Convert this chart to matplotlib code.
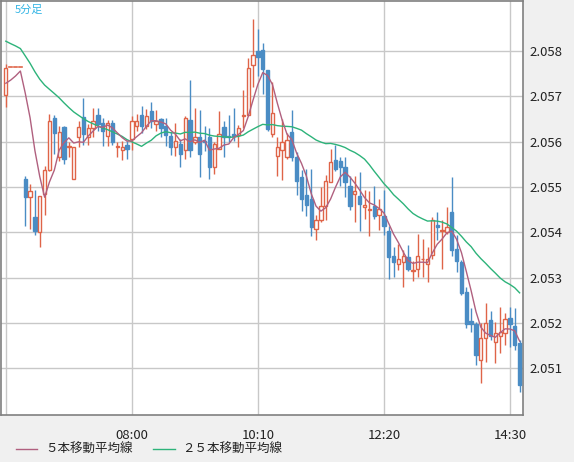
import numpy as np
import pandas as pd
import matplotlib
matplotlib.use("Agg")
import matplotlib.pyplot as plt
from matplotlib.patches import Rectangle
from matplotlib.lines import Line2D

plt.rcParams['font.family'] = ['Noto Sans CJK JP', 'DejaVu Sans']

# 5分足 OHLC, 05:50 から 14:40 まで (bar 1-3 は取引なし)
opens = [2.05703, 2.05765, 2.05765, 2.05765, 2.05518, 2.05477, 2.05433, 2.05400, 2.05485, 2.05538,
         2.05653, 2.05567, 2.05633, 2.05589, 2.05518, 2.05609, 2.05655, 2.05611, 2.05631, 2.05659,
         2.05642, 2.05613, 2.05642, 2.05587, 2.05582, 2.05593, 2.05606, 2.05635, 2.05659, 2.05635,
         2.05668, 2.05639, 2.05650, 2.05635, 2.05613, 2.05587, 2.05595, 2.05582, 2.05648, 2.05598,
         2.05611, 2.05602, 2.05611, 2.05543, 2.05584, 2.05633, 2.05613, 2.05617, 2.05615, 2.05657,
         2.05659, 2.05769, 2.05800, 2.05802, 2.05758, 2.05617, 2.05569, 2.05582, 2.05565, 2.05622,
         2.05567, 2.05521, 2.05483, 2.05474, 2.05408, 2.05426, 2.05457, 2.05510, 2.05560, 2.05558,
         2.05543, 2.05503, 2.05485, 2.05481, 2.05455, 2.05450, 2.05457, 2.05437, 2.05435, 2.05402,
         2.05347, 2.05329, 2.05334, 2.05345, 2.05314, 2.05318, 2.05340, 2.05331, 2.05349, 2.05415,
         2.05402, 2.05400, 2.05444, 2.05362, 2.05334, 2.05268, 2.05204, 2.05197, 2.05118, 2.05166,
         2.05206, 2.05158, 2.05171, 2.05177, 2.05210, 2.05193, 2.05155]
highs = [2.05771, 2.05765, 2.05765, 2.05765, 2.05523, 2.05507, 2.05494, 2.05479, 2.05547, 2.05661,
         2.05659, 2.05635, 2.05635, 2.05598, 2.05589, 2.05646, 2.05697, 2.05639, 2.05675, 2.05675,
         2.05653, 2.05648, 2.05648, 2.05598, 2.05602, 2.05602, 2.05657, 2.05661, 2.05679, 2.05672,
         2.05688, 2.05670, 2.05653, 2.05653, 2.05622, 2.05642, 2.05606, 2.05657, 2.05736, 2.05675,
         2.05670, 2.05635, 2.05631, 2.05598, 2.05668, 2.05646, 2.05659, 2.05675, 2.05637, 2.05714,
         2.05785, 2.05870, 2.05848, 2.05818, 2.05758, 2.05732, 2.05611, 2.05650, 2.05620, 2.05670,
         2.05576, 2.05538, 2.05540, 2.05540, 2.05437, 2.05499, 2.05527, 2.05584, 2.05593, 2.05565,
         2.05567, 2.05525, 2.05525, 2.05532, 2.05494, 2.05492, 2.05503, 2.05474, 2.05494, 2.05413,
         2.05367, 2.05375, 2.05360, 2.05371, 2.05336, 2.05397, 2.05386, 2.05367, 2.05433, 2.05444,
         2.05426, 2.05455, 2.05521, 2.05393, 2.05338, 2.05279, 2.05232, 2.05202, 2.05199, 2.05243,
         2.05226, 2.05202, 2.05235, 2.05221, 2.05235, 2.05232, 2.05162]
lows = [2.05677, 2.05765, 2.05765, 2.05765, 2.05413, 2.05408, 2.05395, 2.05367, 2.05437, 2.05535,
        2.05573, 2.05558, 2.05551, 2.05565, 2.05518, 2.05587, 2.05593, 2.05593, 2.05609, 2.05624,
        2.05591, 2.05591, 2.05593, 2.05565, 2.05560, 2.05562, 2.05582, 2.05624, 2.05620, 2.05628,
        2.05631, 2.05624, 2.05609, 2.05591, 2.05571, 2.05569, 2.05543, 2.05562, 2.05567, 2.05595,
        2.05521, 2.05580, 2.05518, 2.05529, 2.05584, 2.05567, 2.05598, 2.05602, 2.05587, 2.05631,
        2.05659, 2.05721, 2.05745, 2.05705, 2.05624, 2.05609, 2.05523, 2.05516, 2.05562, 2.05558,
        2.05483, 2.05446, 2.05435, 2.05391, 2.05382, 2.05422, 2.05426, 2.05510, 2.05536, 2.05503,
        2.05477, 2.05448, 2.05422, 2.05402, 2.05430, 2.05391, 2.05430, 2.05406, 2.05393, 2.05298,
        2.05301, 2.05316, 2.05279, 2.05314, 2.05292, 2.05301, 2.05301, 2.05290, 2.05342, 2.05382,
        2.05318, 2.05397, 2.05347, 2.05312, 2.05261, 2.05188, 2.05180, 2.05107, 2.05067, 2.05114,
        2.05162, 2.05111, 2.05133, 2.05151, 2.05147, 2.05140, 2.05047]
closes = [2.05763, 2.05765, 2.05765, 2.05765, 2.05477, 2.05490, 2.05402, 2.05479, 2.05538, 2.05646,
          2.05620, 2.05622, 2.05562, 2.05591, 2.05589, 2.05633, 2.05617, 2.05631, 2.05646, 2.05639,
          2.05624, 2.05642, 2.05600, 2.05591, 2.05587, 2.05584, 2.05646, 2.05646, 2.05635, 2.05657,
          2.05646, 2.05646, 2.05631, 2.05615, 2.05587, 2.05602, 2.05573, 2.05653, 2.05582, 2.05609,
          2.05573, 2.05598, 2.05543, 2.05595, 2.05617, 2.05609, 2.05609, 2.05613, 2.05631, 2.05659,
          2.05763, 2.05791, 2.05787, 2.05760, 2.05628, 2.05664, 2.05587, 2.05600, 2.05604, 2.05567,
          2.05514, 2.05474, 2.05461, 2.05411, 2.05428, 2.05459, 2.05512, 2.05556, 2.05540, 2.05543,
          2.05510, 2.05459, 2.05490, 2.05463, 2.05461, 2.05452, 2.05435, 2.05452, 2.05413, 2.05345,
          2.05334, 2.05342, 2.05347, 2.05318, 2.05316, 2.05347, 2.05342, 2.05342, 2.05426, 2.05411,
          2.05404, 2.05411, 2.05360, 2.05336, 2.05265, 2.05197, 2.05197, 2.05129, 2.05166, 2.05199,
          2.05171, 2.05177, 2.05180, 2.05208, 2.05197, 2.05151, 2.05063]
# 表示範囲より前の終値 (移動平均の計算用, 推定)
prior_closes = [2.0590, 2.0589, 2.0591, 2.0588, 2.0590, 2.0587, 2.0589, 2.0586, 2.0588, 2.0585,
                2.0586, 2.0584, 2.0585, 2.0583, 2.0582, 2.0580, 2.0579, 2.0577, 2.0576, 2.0574,
                2.0573, 2.0572, 2.0571, 2.0572]

xtick_pos = [26, 52, 78, 104]
xtick_labels = ['08:00', '10:10', '12:20', '14:30']
yticks = [2.051, 2.052, 2.053, 2.054, 2.055, 2.056, 2.057, 2.058]

UP = '#df6448'
DOWN = '#4a8cc4'
MA5_C = '#b0607f'
MA25_C = '#2db37a'

n = len(closes)
all_c = pd.Series(prior_closes + closes)
ma5 = all_c.rolling(5).mean().values[len(prior_closes):]
ma25 = all_c.rolling(25).mean().values[len(prior_closes):]

fig = plt.figure(figsize=(5.74, 4.62), dpi=100)
fig.patch.set_facecolor('#f0f0f0')
ax = fig.add_axes([1 / 574, 1 - 415 / 462, 522 / 574, 414 / 462])
ax.set_facecolor('white')

ax.set_xlim(-1.0, 106.7)
ax.set_ylim(2.04997, 2.0591)

for y in yticks:
    ax.axhline(y, color='#c8c8c8', lw=1, zorder=0)
for x in [0] + xtick_pos:
    ax.axvline(x, color='#c8c8c8', lw=1, zorder=0)

w = 0.68
for i in range(n):
    o, h, l, c = opens[i], highs[i], lows[i], closes[i]
    if h == l:
        # 取引なしの足は短い横線 (破線状に見える)
        ax.plot([i - 0.3, i + 0.3], [c, c], color=UP, lw=1.2, zorder=3)
        continue
    col = UP if c >= o else DOWN
    ax.vlines(i, l, h, color=col, lw=1, zorder=2)
    lo, hi = min(o, c), max(o, c)
    face = 'white' if c >= o else col
    ax.add_patch(Rectangle((i - w / 2, lo), w, max(hi - lo, 0.00001),
                           facecolor=face, edgecolor=col, lw=1, zorder=3))

idx = np.arange(n)
ax.plot(idx, ma25, color=MA25_C, lw=1, zorder=4)
ax.plot(idx, ma5, color=MA5_C, lw=1, zorder=4)

ax.set_xticks(xtick_pos)
ax.set_xticklabels(xtick_labels)
ax.set_yticks(yticks)
ax.set_yticklabels([f'{v:.3f}' for v in yticks])
ax.yaxis.tick_right()
ax.tick_params(length=0, labelsize=9.5, colors='#222222', pad=5)
ax.tick_params(axis='x', pad=10)
for s in ax.spines.values():
    s.set_color('#808080')
    s.set_linewidth(1.2)

ax.text(0.026, 0.992, '5分足', transform=ax.transAxes, color='#33b5e5',
        fontsize=8, va='top', ha='left')

# 凡例
fig.add_artist(Line2D([16 / 574, 37 / 574], [1 - 449 / 462] * 2, color=MA5_C, lw=1))
fig.text(45 / 574, 1 - 449 / 462, '５本移動平均線', fontsize=9, va='center', color='#222222')
fig.add_artist(Line2D([153 / 574, 175 / 574], [1 - 449 / 462] * 2, color=MA25_C, lw=1))
fig.text(182 / 574, 1 - 449 / 462, '２５本移動平均線', fontsize=9, va='center', color='#222222')

fig.savefig('out.png', dpi=100, facecolor=fig.get_facecolor())
